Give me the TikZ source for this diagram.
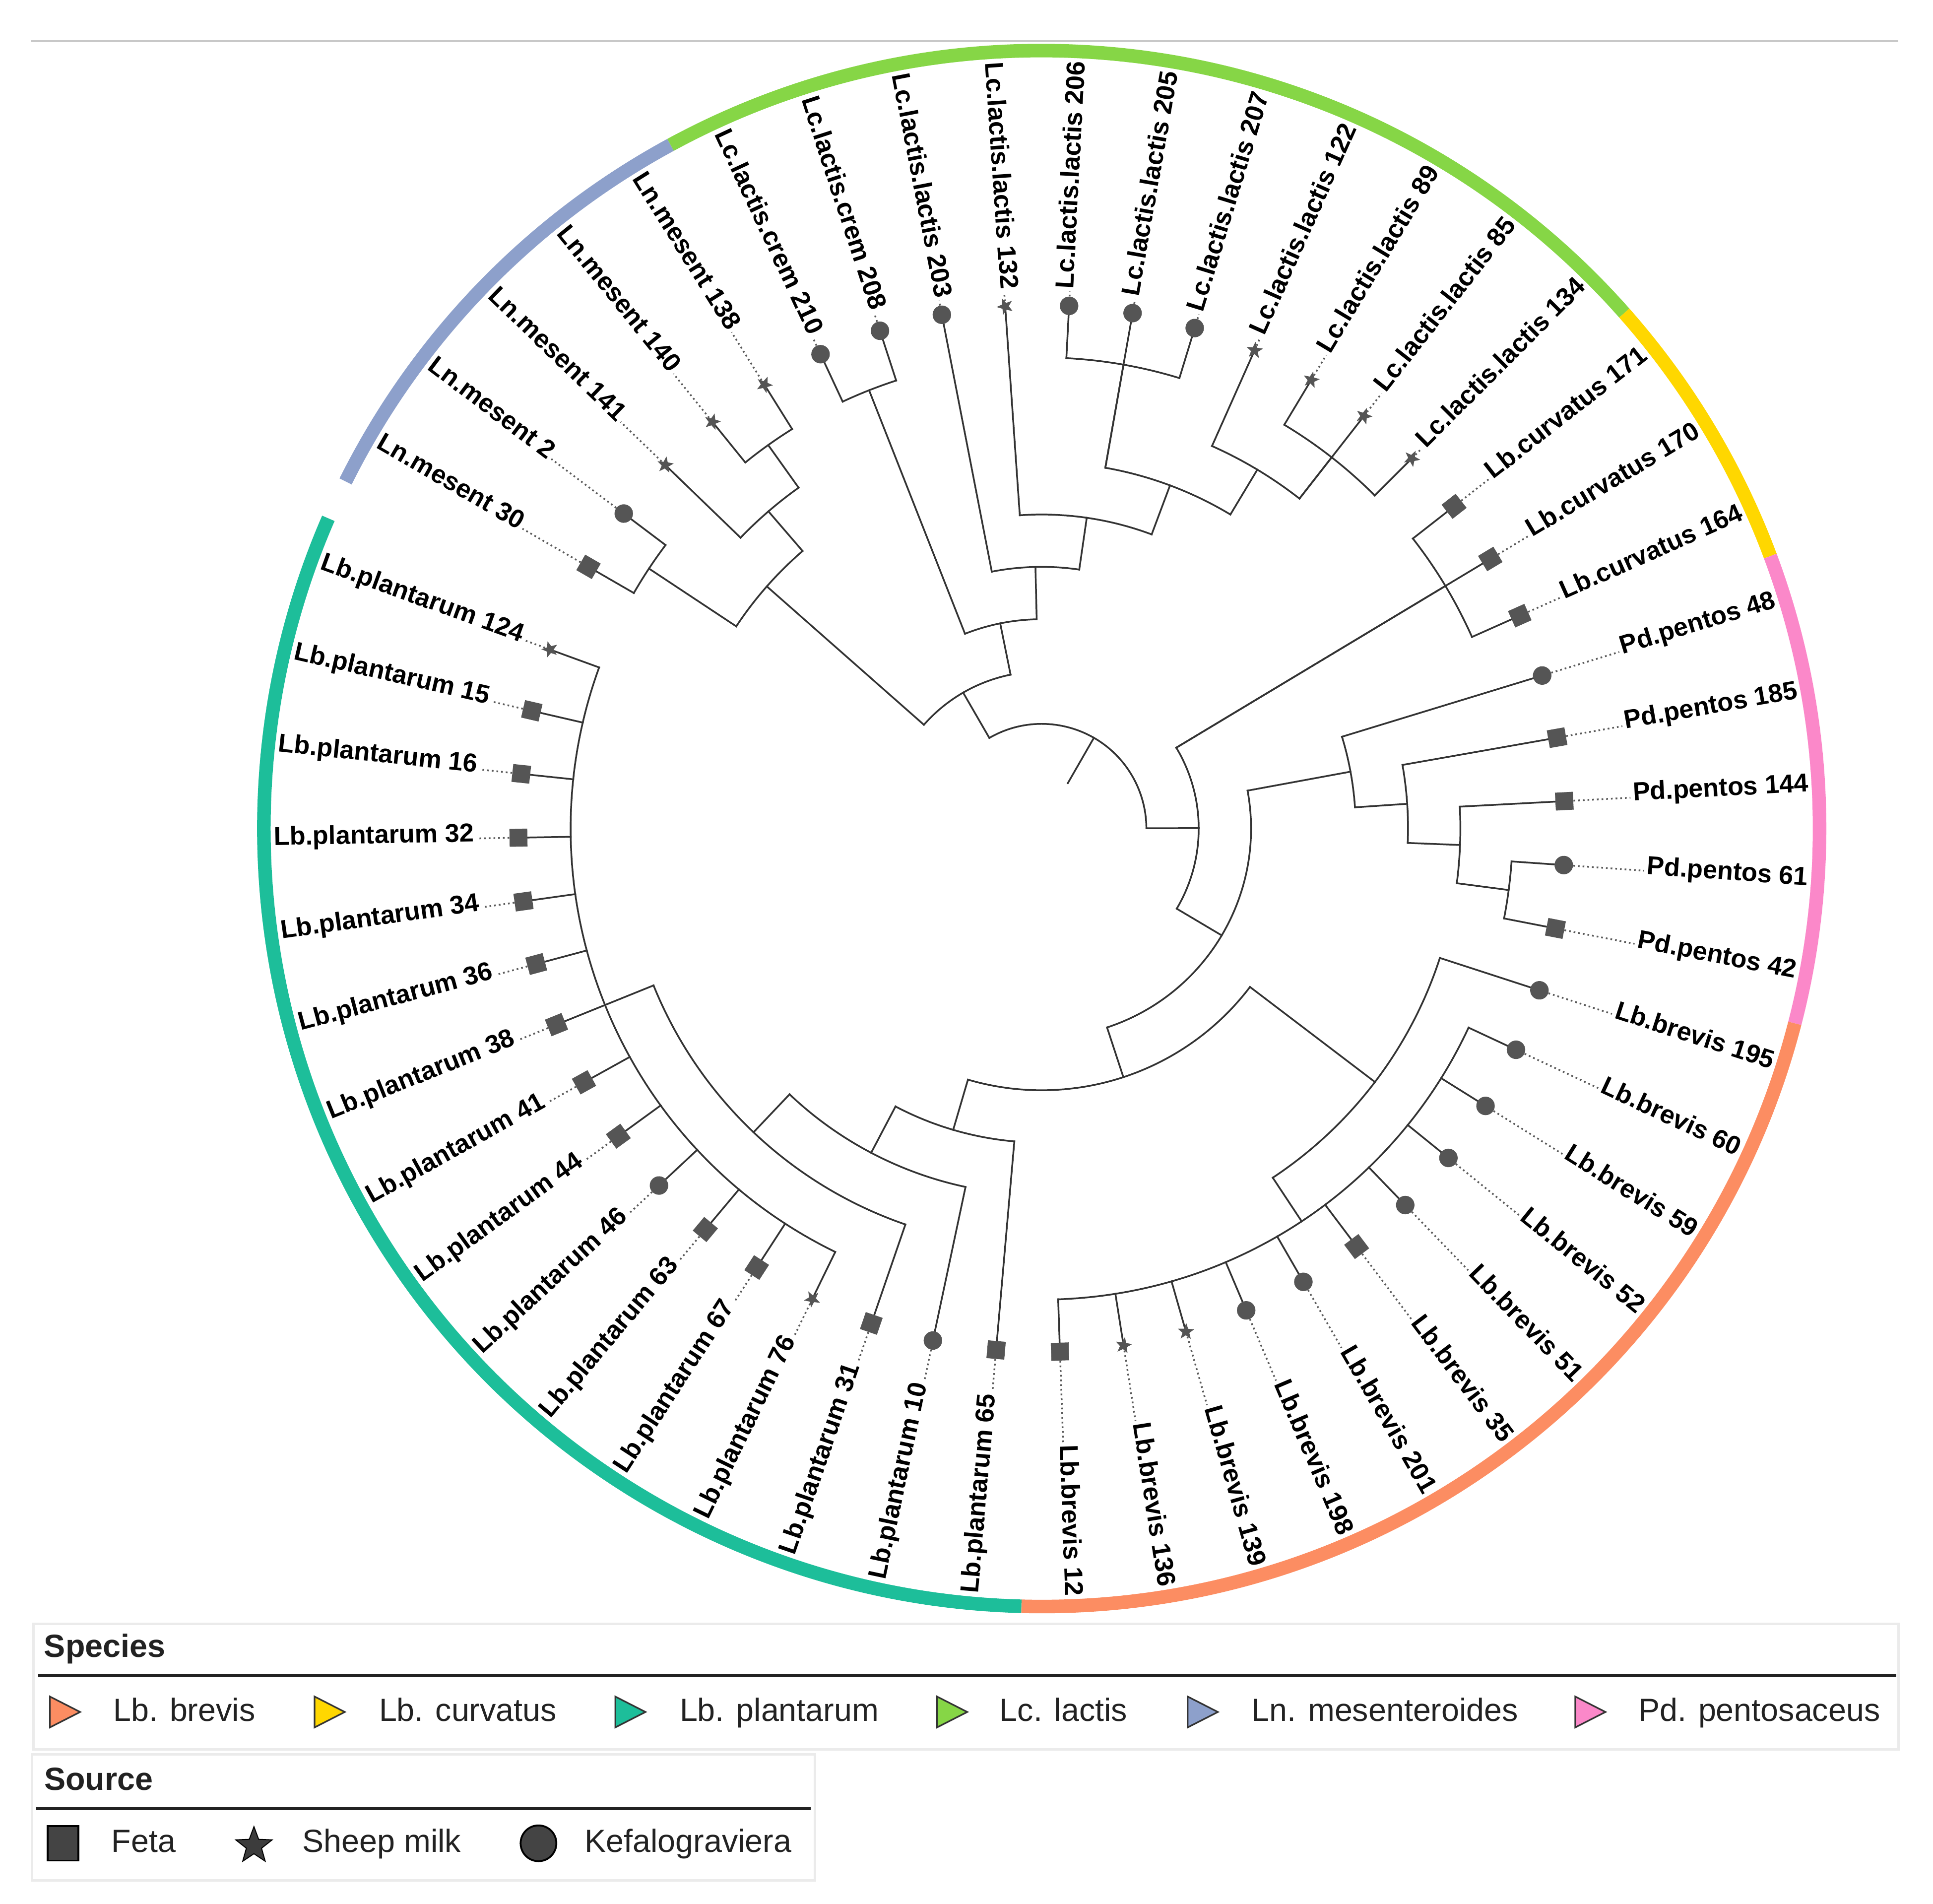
\documentclass[tikz,border=0pt]{standalone}
\usepackage{fontspec}
\setmainfont{Liberation Sans}
\usetikzlibrary{shapes.geometric}
\definecolor{colBranch}{HTML}{333333}
\definecolor{colMark}{HTML}{555555}
\definecolor{colDot}{HTML}{5A5A5A}
\definecolor{colTop}{HTML}{C8C8C8}
\definecolor{colBox}{HTML}{EBEBEB}
\definecolor{colLeg}{HTML}{222222}
\definecolor{colTriEdge}{HTML}{333333}
\definecolor{colBre}{HTML}{FC8D62}
\definecolor{colCur}{HTML}{FFD700}
\definecolor{colPla}{HTML}{1DBE9A}
\definecolor{colLac}{HTML}{86D646}
\definecolor{colMes}{HTML}{8DA0CB}
\definecolor{colPed}{HTML}{FB88C9}
\def\Rleaf{424.5}
\def\Dlev{42.45}
\def\Rlab{623}
\def\Rring{631}
\tikzset{
  brline/.style={draw=colBranch, line width=1.4pt, line cap=rect},
  leafdots/.style={draw=colDot, line width=1.4pt, dash pattern=on 1.4pt off 2.4pt, shorten >=2pt},
  mksq/.style={rectangle, fill=colMark, minimum size=14.5pt, inner sep=0pt},
  mkci/.style={circle, fill=colMark, minimum size=15pt, inner sep=0pt},
  mkst/.style={star, star points=5, star point ratio=2.4, fill=colMark, minimum size=14pt, inner sep=0pt},
  lab/.style={font=\bfseries\fontsize{21}{21}\selectfont, inner sep=0pt, text=black},
  legtext/.style={font=\fontsize{26}{26}\selectfont, inner sep=0pt, text=colLeg},
  legtitle/.style={font=\bfseries\fontsize{26}{26}\selectfont, inner sep=0pt, text=colLeg},
}
\newcommand\ringseg[3]{%
  \draw[line width=11pt, draw=#1] (#2:\Rring pt) arc[start angle=#2, end angle=#3, radius=\Rring pt];}
\newcommand\clade[5]{%
  \pgfmathsetmacro\cladeR{#2*\Dlev}%
  \pgfmathsetmacro\cladeP{#5*\Dlev}%
  \pgfmathsetmacro\cladeM{(#3+#4)/2}%
  \coordinate (#1) at (\cladeM:\cladeR pt);
  \coordinate (#1s) at (#3:\cladeR pt);
  \coordinate (#1p) at (\cladeM:\cladeP pt);
  \draw[brline] (#1s) arc[start angle=#3, end angle=#4, radius=\cladeR pt];
  \draw[brline] (#1p) -- (#1);
}
\newcommand\leaf[4]{%
  \pgfmathsetmacro\lfA{150-7*#1}%
  \pgfmathsetmacro\lfP{#4*\Dlev}%
  \pgfmathtruncatemacro\lfF{(\lfA>90 || \lfA<-90) ? 1 : 0}%
  \coordinate (b#1) at (\lfA:\lfP pt);
  \coordinate (t#1) at (\lfA:\Rleaf pt);
  \draw[brline] (b#1) -- (t#1);
  \node[#3, rotate=\lfA] (L#1) at (t#1) {};
  \ifnum\lfF=1
    \pgfmathsetmacro\lfB{\lfA+180}%
    \node[lab, rotate=\lfB, anchor=mid west] (T#1) at (\lfA:\Rlab pt) {#2};
    \draw[leafdots] (L#1) -- (T#1.mid east);
  \else
    \node[lab, rotate=\lfA, anchor=mid east] (T#1) at (\lfA:\Rlab pt) {#2};
    \draw[leafdots] (L#1) -- (T#1.mid west);
  \fi
}
\begin{document}
\begin{tikzpicture}[x=1pt,y=1pt]
\useasboundingbox (0,0) rectangle (1568,-1544.25);
\fill[white] (0,0) rectangle (1568,-1544.25);
\coordinate (tlA) at (25,-33.5);
\coordinate (tlB) at (1540,-33.5);
\draw[line width=1.8pt, draw=colTop] (tlA) -- (tlB);

\begin{scope}[shift={(845pt,-672pt)}]
  % colour ring
  \ringseg{colMes}{153.5}{118.5}
  \ringseg{colLac}{118.5}{41.5}
  \ringseg{colCur}{41.5}{20.5}
  \ringseg{colPed}{20.5}{-14.5}
  \ringseg{colBre}{-14.5}{-91.5}
  \ringseg{colPla}{-91.5}{-203.5}
  % internal nodes
  \clade{root}{2}{120.03125}{0.15625}{1}
  \clade{nE}{3}{138.625}{101.4375}{2}
  \clade{nG}{3}{31}{-30.6875}{2}
  \clade{m4}{7}{146.5}{130.75}{3}
  \clade{m1}{9}{150}{143}{7}
  \clade{m3}{8}{136}{125.5}{7}
  \clade{m2}{9}{129}{122}{8}
  \clade{nD}{4}{111.5}{91.375}{3}
  \clade{c1}{9}{115}{108}{4}
  \clade{nC}{5}{101}{81.75}{4}
  \clade{nB}{6}{94}{69.5}{5}
  \clade{nA}{7}{80}{59}{6}
  \clade{l1}{9}{87}{73}{7}
  \clade{nF}{8}{66}{52}{7}
  \clade{l2}{9}{59}{45}{8}
  \clade{k1}{9}{38}{24}{3}
  \clade{nH}{4}{10.4375}{-71.8125}{3}
  \clade{nP}{6}{17}{3.875}{4}
  \clade{nQ}{7}{10}{-2.25}{6}
  \clade{nR}{8}{3}{-7.5}{7}
  \clade{nS}{9}{-4}{-11}{8}
  \clade{nI}{5}{-37.25}{-106.375}{4}
  \clade{nJ}{8}{-18}{-56.5}{5}
  \clade{nK}{9}{-25}{-88}{8}
  \clade{nL}{6}{-95}{-117.75}{5}
  \clade{nM}{7}{-102}{-133.5}{6}
  \clade{nN}{8}{-109}{-158}{7}
  \clade{nO}{9}{-116}{-200}{8}
  % leaves
  \leaf{0}{Ln.mesent 30}{mksq}{9}
  \leaf{1}{Ln.mesent 2}{mkci}{9}
  \leaf{2}{Ln.mesent 141}{mkst}{8}
  \leaf{3}{Ln.mesent 140}{mkst}{9}
  \leaf{4}{Ln.mesent 138}{mkst}{9}
  \leaf{5}{Lc.lactis.crem 210}{mkci}{9}
  \leaf{6}{Lc.lactis.crem 208}{mkci}{9}
  \leaf{7}{Lc.lactis.lactis 203}{mkci}{5}
  \leaf{8}{Lc.lactis.lactis 132}{mkst}{6}
  \leaf{9}{Lc.lactis.lactis 206}{mkci}{9}
  \leaf{10}{Lc.lactis.lactis 205}{mkci}{7}
  \leaf{11}{Lc.lactis.lactis 207}{mkci}{9}
  \leaf{12}{Lc.lactis.lactis 122}{mkst}{8}
  \leaf{13}{Lc.lactis.lactis 89}{mkst}{9}
  \leaf{14}{Lc.lactis.lactis 85}{mkst}{8}
  \leaf{15}{Lc.lactis.lactis 134}{mkst}{9}
  \leaf{16}{Lb.curvatus 171}{mksq}{9}
  \leaf{17}{Lb.curvatus 170}{mksq}{3}
  \leaf{18}{Lb.curvatus 164}{mksq}{9}
  \leaf{19}{Pd.pentos 48}{mkci}{6}
  \leaf{20}{Pd.pentos 185}{mksq}{7}
  \leaf{21}{Pd.pentos 144}{mksq}{8}
  \leaf{22}{Pd.pentos 61}{mkci}{9}
  \leaf{23}{Pd.pentos 42}{mksq}{9}
  \leaf{24}{Lb.brevis 195}{mkci}{8}
  \leaf{25}{Lb.brevis 60}{mkci}{9}
  \leaf{26}{Lb.brevis 59}{mkci}{9}
  \leaf{27}{Lb.brevis 52}{mkci}{9}
  \leaf{28}{Lb.brevis 51}{mkci}{9}
  \leaf{29}{Lb.brevis 35}{mksq}{9}
  \leaf{30}{Lb.brevis 201}{mkci}{9}
  \leaf{31}{Lb.brevis 198}{mkci}{9}
  \leaf{32}{Lb.brevis 139}{mkst}{9}
  \leaf{33}{Lb.brevis 136}{mkst}{9}
  \leaf{34}{Lb.brevis 12}{mksq}{9}
  \leaf{35}{Lb.plantarum 65}{mksq}{6}
  \leaf{36}{Lb.plantarum 10}{mkci}{7}
  \leaf{37}{Lb.plantarum 31}{mksq}{8}
  \leaf{38}{Lb.plantarum 76}{mkst}{9}
  \leaf{39}{Lb.plantarum 67}{mksq}{9}
  \leaf{40}{Lb.plantarum 63}{mksq}{9}
  \leaf{41}{Lb.plantarum 46}{mkci}{9}
  \leaf{42}{Lb.plantarum 44}{mksq}{9}
  \leaf{43}{Lb.plantarum 41}{mksq}{9}
  \leaf{44}{Lb.plantarum 38}{mksq}{9}
  \leaf{45}{Lb.plantarum 36}{mksq}{9}
  \leaf{46}{Lb.plantarum 34}{mksq}{9}
  \leaf{47}{Lb.plantarum 32}{mksq}{9}
  \leaf{48}{Lb.plantarum 16}{mksq}{9}
  \leaf{49}{Lb.plantarum 15}{mksq}{9}
  \leaf{50}{Lb.plantarum 124}{mkst}{9}
\end{scope}

% ---------- legend: species ----------
\draw[draw=colBox, line width=2pt] (27,-1317) rectangle (1540,-1419);
\node[legtitle, anchor=base west] (spT) at (35.6,-1344) {Species};
\coordinate (spLa) at (31,-1359);
\coordinate (spLb) at (1538,-1359);
\draw[draw=colLeg, line width=2.7pt] (spLa) -- (spLb);
\foreach \ta/\tb/\tc/\td [count=\i] in {40.5/91.7/colBre/{Lb. brevis}, 255.2/307.3/colCur/{Lb. curvatus}, 499.1/551.2/colPla/{Lb. plantarum}, 760.1/810.7/colLac/{Lc. lactis}, 963.4/1015/colMes/{Ln. mesenteroides}, 1277.8/1328.8/colPed/{Pd. pentosaceus}} {
  \filldraw[fill=\tc, draw=colTriEdge, line width=1.3pt, line join=miter] (\ta,-1376) -- ({\ta+24.5},-1388.5) -- (\ta,-1401) -- cycle;
  \node[legtext, anchor=base west] (sp\i) at (\tb,-1396) {\td};
}

% ---------- legend: source ----------
\draw[draw=colBox, line width=2pt] (26,-1423) rectangle (661,-1525);
\node[legtitle, anchor=base west] (soT) at (35.7,-1452) {Source};
\coordinate (soLa) at (29.2,-1467);
\coordinate (soLb) at (657.5,-1467);
\draw[draw=colLeg, line width=2.7pt] (soLa) -- (soLb);
\node[rectangle, fill=colMark!80!black, draw=black, line width=1.5pt, minimum width=25pt, minimum height=28pt, inner sep=0pt] (sFeta) at (51,-1495) {};
\node[legtext, anchor=base west] (tFeta) at (90.3,-1502) {Feta};
\node[star, star points=5, star point ratio=2.4, fill=colMark!70!black, draw=black, line width=0.8pt, minimum size=31pt, inner sep=0pt] (sSheep) at (206,-1497) {};
\node[legtext, anchor=base west] (tSheep) at (245.2,-1502) {Sheep milk};
\node[circle, fill=colMark!80!black, draw=black, line width=1.5pt, minimum size=29pt, inner sep=0pt] (sKef) at (436.8,-1495) {};
\node[legtext, anchor=base west] (tKef) at (474.2,-1502) {Kefalograviera};
\end{tikzpicture}
\end{document}
